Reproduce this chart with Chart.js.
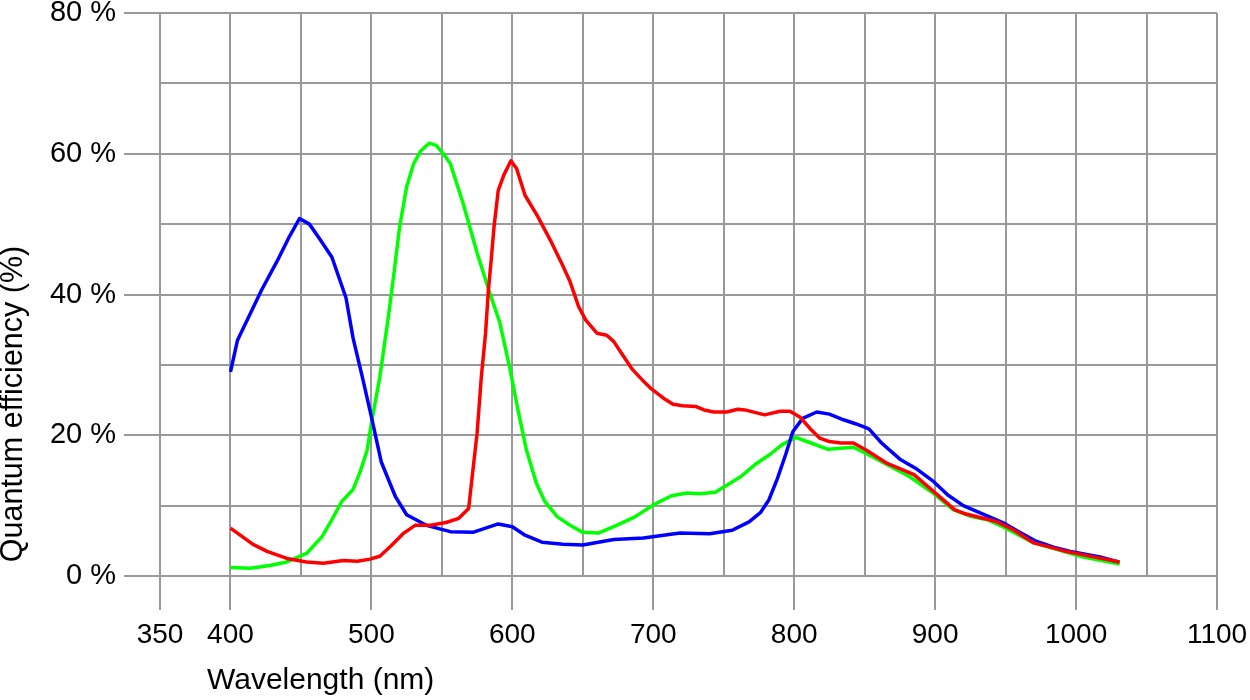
<!DOCTYPE html>
<html lang="en">
<head>
    <meta charset="UTF-8">
    <title>Quantum efficiency</title>
    <script src="https://cdn.jsdelivr.net/npm/chart.js@4.4.1/dist/chart.umd.min.js"></script>
    <style>
        body { margin: 0; background: #fff; }
        #wrap { width: 1250px; height: 700px; }
    </style>
</head>
<body>
    <div id="wrap"><canvas id="qe" width="1250" height="700"></canvas></div>
    <script>
        // tick values
        const xTicks = [350, 400, 450, 500, 550, 600, 650, 700, 750, 800, 850, 900, 950, 1000, 1050, 1100];
        const xLabelled = [350, 400, 500, 600, 700, 800, 900, 1000, 1100];
        const yLabelled = [0, 20, 40, 60, 80];

        // blue channel
        const blueNm = [400, 405, 422, 433, 442, 449, 456, 463, 472, 482, 487, 494, 500, 507, 517, 525, 539, 556, 572, 590, 600, 609, 621, 636, 650, 672, 693, 719, 740, 756, 768, 776, 782, 788, 794, 799, 806, 816, 825, 835, 844, 853, 862, 875, 887, 899, 909, 920, 934, 948, 960, 971, 984, 996, 1017, 1030];
        const blueQE = [29.0, 33.5, 40.6, 44.7, 48.3, 50.8, 50.0, 48.0, 45.3, 39.5, 33.8, 27.9, 22.6, 16.2, 11.3, 8.7, 7.2, 6.3, 6.2, 7.4, 7.0, 5.8, 4.8, 4.5, 4.4, 5.2, 5.4, 6.1, 6.0, 6.5, 7.7, 9.0, 10.8, 13.8, 17.3, 20.5, 22.4, 23.3, 23.0, 22.2, 21.6, 20.9, 18.9, 16.6, 15.2, 13.4, 11.5, 10.0, 8.8, 7.6, 6.2, 5.0, 4.1, 3.5, 2.7, 2.0];

        // green channel
        const greenNm = [400, 414, 428, 440, 454, 465, 472, 479, 487, 492, 497, 500, 506, 512, 516, 520, 525, 530, 535, 541, 546, 551, 556, 565, 575, 584, 591, 598, 604, 610, 617, 623, 632, 641, 650, 661, 674, 687, 700, 713, 724, 733, 744, 762, 772, 783, 791, 801, 812, 824, 842, 851, 866, 882, 899, 913, 925, 937, 948, 970, 991, 1005, 1031];
        const greenQE = [1.2, 1.1, 1.5, 2.0, 3.2, 5.6, 8.0, 10.6, 12.3, 14.8, 17.9, 21.7, 28.3, 36.8, 43.0, 49.6, 55.3, 58.6, 60.4, 61.5, 61.2, 60.0, 58.6, 53.0, 45.9, 40.2, 36.1, 29.7, 23.6, 17.9, 13.2, 10.6, 8.4, 7.2, 6.2, 6.1, 7.2, 8.4, 10.1, 11.4, 11.8, 11.7, 11.9, 14.1, 15.8, 17.3, 18.6, 19.7, 18.9, 18.0, 18.3, 17.4, 15.8, 14.1, 11.7, 9.4, 8.5, 8.0, 7.0, 4.7, 3.5, 2.7, 1.7];

        // red channel
        const redNm = [400, 416, 426, 440, 454, 466, 480, 490, 499, 506, 514, 523, 531, 542, 553, 562, 569, 571, 575, 578, 581, 583, 585, 587, 590, 594, 599, 603, 609, 618, 627, 636, 641, 647, 652, 660, 667, 672, 679, 685, 692, 698, 707, 714, 721, 730, 736, 743, 752, 760, 765, 779, 790, 797, 804, 811, 818, 825, 833, 842, 851, 866, 885, 899, 914, 922, 934, 944, 956, 970, 991, 1005, 1031];
        const redQE = [6.8, 4.5, 3.5, 2.5, 2.0, 1.8, 2.2, 2.1, 2.4, 2.8, 4.3, 6.1, 7.2, 7.2, 7.6, 8.2, 9.6, 13.2, 20.3, 28.3, 34.5, 40.6, 44.9, 49.6, 54.8, 57.0, 59.0, 57.9, 54.1, 51.1, 47.7, 44.0, 41.8, 38.3, 36.4, 34.5, 34.2, 33.3, 31.2, 29.4, 27.9, 26.7, 25.3, 24.4, 24.2, 24.1, 23.6, 23.3, 23.3, 23.7, 23.6, 22.9, 23.4, 23.4, 22.6, 21.0, 19.6, 19.1, 18.9, 18.9, 17.9, 16.0, 14.4, 12.0, 9.4, 8.8, 8.2, 7.7, 6.5, 4.7, 3.6, 3.0, 2.0];

        const pairs = (xs, ys) => xs.map((x, i) => ({ x: x, y: ys[i] }));

        const FONT = '"Liberation Sans", Arial, sans-serif';
        const GRID = '#999999';

        const lineSet = (data, color) => ({
            data: data,
            borderColor: color,
            borderWidth: 3.5,
            pointRadius: 0,
            tension: 0,
            borderJoinStyle: 'round',
            borderCapStyle: 'butt',
            fill: false
        });

        // axis titles drawn by hand so they sit where the original has them
        const axisTitles = {
            id: 'axisTitles',
            afterDraw(chart) {
                const ctx = chart.ctx;
                const area = chart.chartArea;
                ctx.save();
                ctx.fillStyle = '#000';
                ctx.font = '30px ' + FONT;
                ctx.textBaseline = 'middle';
                ctx.textAlign = 'left';
                ctx.fillText('Wavelength (nm)', area.left + 47, 681);
                ctx.font = '30.5px ' + FONT;
                ctx.translate(14, 404);
                ctx.rotate(-Math.PI / 2);
                ctx.textAlign = 'center';
                ctx.fillText('Quantum efficiency (%)', 0, 0);
                ctx.restore();
            }
        };

        const chart = new Chart(document.getElementById('qe').getContext('2d'), {
            type: 'line',
            data: {
                datasets: [
                    lineSet(pairs(redNm, redQE), '#ff0000'),
                    lineSet(pairs(blueNm, blueQE), '#0000ff'),
                    lineSet(pairs(greenNm, greenQE), '#00ff00')
                ]
            },
            options: {
                responsive: false,
                animation: false,
                layout: { padding: { top: 13, right: 33, left: 0, bottom: 0 } },
                plugins: { legend: { display: false }, tooltip: { enabled: false } },
                scales: {
                    x: {
                        type: 'linear',
                        min: 350,
                        max: 1100,
                        afterBuildTicks: (scale) => { scale.ticks = xTicks.map(v => ({ value: v })); },
                        afterFit: (scale) => {
                            scale.height = 124;
                            scale.paddingLeft = 0;
                            scale.paddingRight = 0;
                        },
                        border: { display: false },
                        grid: {
                            color: GRID,
                            lineWidth: 2,
                            tickLength: 34,
                            tickColor: (c) => xLabelled.includes(c.tick.value) ? GRID : 'rgba(0,0,0,0)',
                            tickWidth: 2
                        },
                        ticks: {
                            autoSkip: false,
                            maxRotation: 0,
                            padding: 8,
                            color: '#000',
                            font: { family: FONT, size: 28 },
                            callback: (v) => xLabelled.includes(v) ? String(v) : ''
                        }
                    },
                    y: {
                        min: 0,
                        max: 80,
                        afterBuildTicks: (scale) => {
                            const t = [];
                            for (let v = 0; v <= 80; v += 10) t.push({ value: v });
                            scale.ticks = t;
                        },
                        afterFit: (scale) => {
                            scale.width = 160;
                            scale.paddingTop = 0;
                            scale.paddingBottom = 0;
                        },
                        border: { display: false },
                        grid: {
                            color: GRID,
                            lineWidth: 2,
                            tickLength: 36,
                            tickColor: (c) => yLabelled.includes(c.tick.value) ? GRID : 'rgba(0,0,0,0)',
                            tickWidth: 2
                        },
                        ticks: {
                            padding: 8,
                            color: '#000',
                            font: { family: FONT, size: 29 },
                            callback: (v) => yLabelled.includes(v) ? v + ' %' : ''
                        }
                    }
                }
            },
            plugins: [axisTitles]
        });
    </script>
</body>
</html>
